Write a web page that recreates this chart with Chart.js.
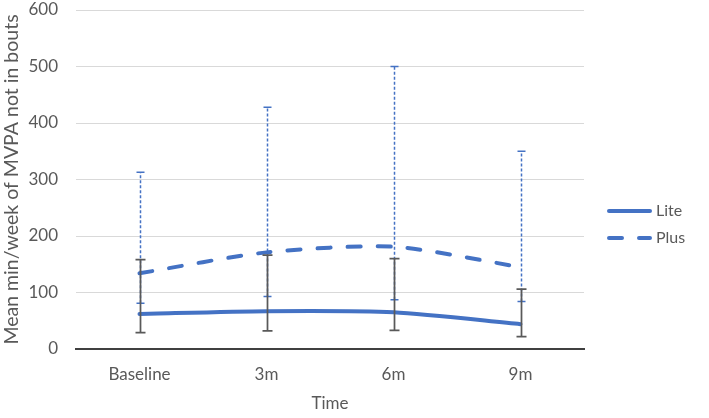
<!DOCTYPE html>
<html>
<head>
<meta charset="utf-8">
<script src="https://cdn.jsdelivr.net/npm/chart.js@4/dist/chart.umd.min.js"></script>
<style>
html,body{margin:0;padding:0;background:#fff;}
#wrap{width:709px;height:418px;position:relative;}
</style>
</head>
<body>
<div id="wrap"><canvas id="c" width="709" height="418"></canvas></div>
<script>
const categories = ['Baseline', '3m', '6m', '9m'];
const liteMean = [62, 67, 65, 44];
const liteLow = [29, 32, 33, 22];
const liteHigh = [158, 166, 160, 106];
const plusMean = [134, 171, 181, 145];
const plusLow = [81, 93, 87, 84];
const plusHigh = [313, 428, 500, 350];
const yTicks = [0, 100, 200, 300, 400, 500, 600];

const BLUE = '#4472C4';
const GRAY = '#595959';
const FONT = 'Lato, "Open Sans", sans-serif';

const errorBars = {
  id: 'errorBars',
  afterDatasetsDraw(chart) {
    const ctx = chart.ctx, xs = chart.scales.x, ys = chart.scales.y;
    const draw = (low, high, color, width, dash, cap) => {
      ctx.save();
      ctx.strokeStyle = color;
      ctx.lineWidth = width;
      for (let i = 0; i < categories.length; i++) {
        const x = Math.round(xs.getPixelForValue(i)) + 0.5;
        const y1 = ys.getPixelForValue(low[i]);
        const y2 = ys.getPixelForValue(high[i]);
        ctx.setLineDash(dash);
        ctx.beginPath(); ctx.moveTo(x, y1); ctx.lineTo(x, y2); ctx.stroke();
        ctx.setLineDash([]);
        ctx.beginPath();
        ctx.moveTo(x - cap, y1); ctx.lineTo(x + cap, y1);
        ctx.moveTo(x - cap, y2); ctx.lineTo(x + cap, y2);
        ctx.stroke();
      }
      ctx.restore();
    };
    draw(plusLow, plusHigh, BLUE, 1.5, [3, 2], 4);
    draw(liteLow, liteHigh, GRAY, 1.75, [], 5);
  }
};

const customLegend = {
  id: 'customLegend',
  afterDraw(chart) {
    const ctx = chart.ctx;
    const items = [
      {label: 'Lite', dash: [], y: 211},
      {label: 'Plus', dash: [13, 17], y: 238}
    ];
    ctx.save();
    items.forEach(it => {
      ctx.strokeStyle = BLUE;
      ctx.lineWidth = 4;
      ctx.lineCap = 'round';
      ctx.setLineDash(it.dash);
      ctx.beginPath(); ctx.moveTo(609, it.y); ctx.lineTo(650, it.y); ctx.stroke();
      ctx.setLineDash([]);
      ctx.fillStyle = GRAY;
      ctx.font = '16px ' + FONT;
      ctx.textBaseline = 'middle';
      ctx.textAlign = 'left';
      ctx.fillText(it.label, 656, it.y);
    });
    ctx.restore();
  }
};

new Chart(document.getElementById('c'), {
  type: 'line',
  data: {
    labels: categories,
    datasets: [
      {label: 'Lite', data: liteMean, borderColor: BLUE, backgroundColor: BLUE, borderWidth: 4,
       pointRadius: 0, tension: 0.25, borderCapStyle: 'round', fill: false},
      {label: 'Plus', data: plusMean, borderColor: BLUE, backgroundColor: BLUE, borderWidth: 4,
       borderDash: [13, 17], borderCapStyle: 'round', pointRadius: 0, tension: 0.25, fill: false}
    ]
  },
  plugins: [errorBars, customLegend],
  options: {
    responsive: false,
    animation: false,
    layout: {padding: {left: 0, top: 10, right: 125, bottom: 0}},
    plugins: {legend: {display: false}, tooltip: {enabled: false}},
    scales: {
      x: {
        offset: true,
        grid: {display: false, drawTicks: false},
        border: {display: true, color: '#404040', width: 2},
        ticks: {color: GRAY, font: {family: FONT, size: 17}, padding: 15},
        title: {display: true, text: 'Time', color: GRAY, font: {family: FONT, size: 17}, padding: {top: 6}},
        afterFit(s) { s.height = 69; }
      },
      y: {
        min: 0, max: 600,
        afterBuildTicks(s) { s.ticks = yTicks.map(v => ({value: v})); },
        grid: {color: '#D9D9D9', lineWidth: 1, drawTicks: false},
        border: {display: false},
        ticks: {color: GRAY, font: {family: FONT, size: 17}, padding: 18},
        title: {display: true, text: 'Mean min/week of MVPA not in bouts', color: GRAY, font: {family: FONT, size: 19.5}, padding: {top: 0, bottom: 0}},
        afterFit(s) { s.width = 76; s.paddingTop = 0; s.paddingBottom = 0; }
      }
    }
  }
});
</script>
</body>
</html>
